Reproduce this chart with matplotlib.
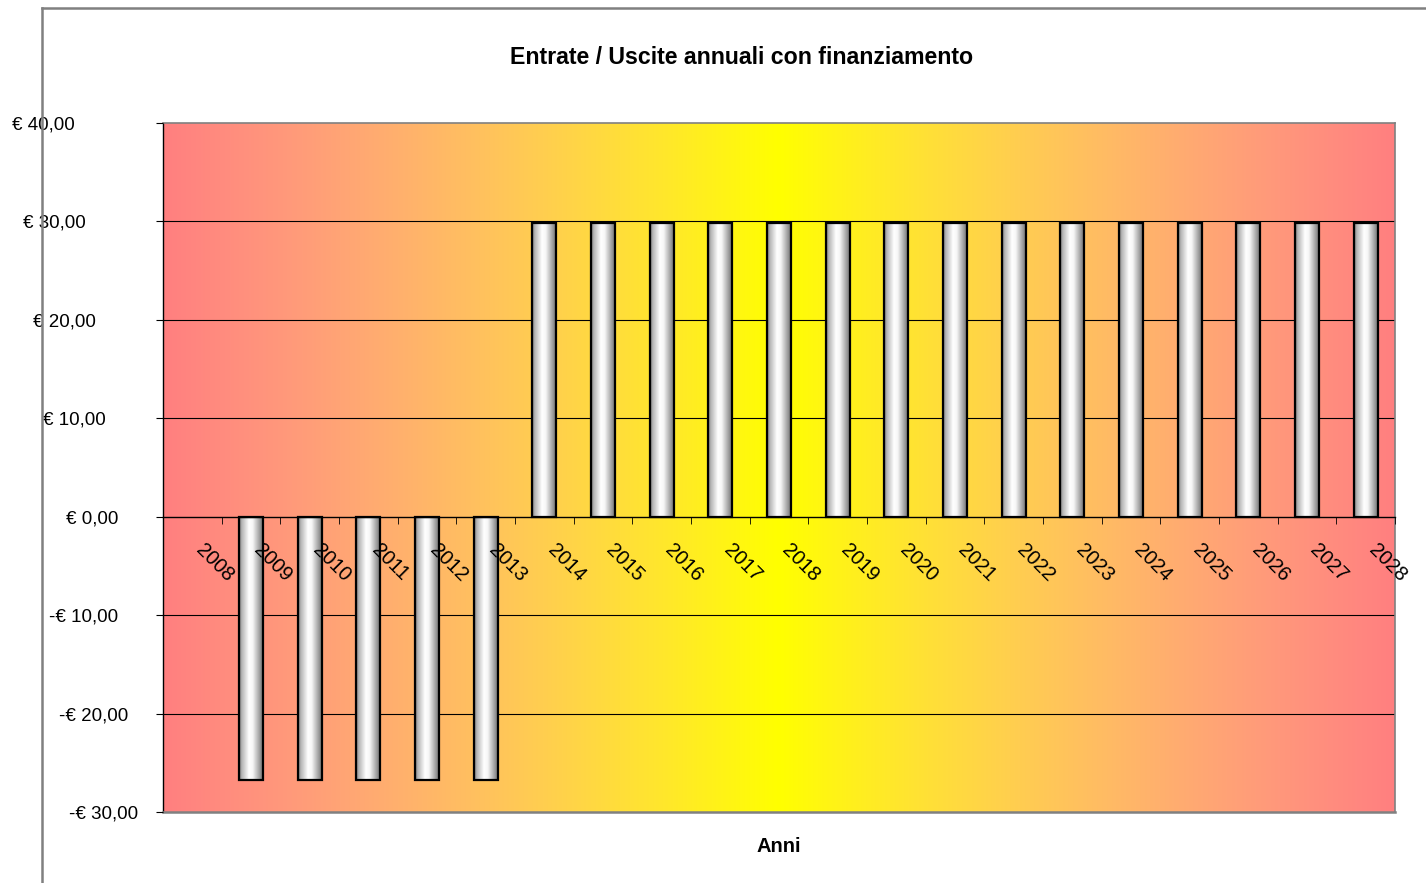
import numpy as np
import matplotlib
matplotlib.use("Agg")
import matplotlib.pyplot as plt
from matplotlib.lines import Line2D
from matplotlib.transforms import ScaledTranslation

plt.rcParams['font.family'] = ['Liberation Sans', 'DejaVu Sans']

# data
anni = [str(a) for a in range(2008, 2029)]
valori = [0.0] + [-26.7] * 5 + [29.8] * 15
y_ticks = [-30, -20, -10, 0, 10, 20, 30, 40]
y_labels = ['-€ 30,00', '-€ 20,00', '-€ 10,00', '€ 0,00',
            '€ 10,00', '€ 20,00', '€ 30,00', '€ 40,00']
# right edge of each y label, pixels left of the axis (as drawn in the original)
y_label_pad = [25, 35, 45, 45, 57, 67, 77, 88]

fig = plt.figure(figsize=(14.26, 8.83), dpi=100)
ax = fig.add_axes([163/1426, 71/883, 1232/1426, 689/883])

n = len(anni)
x = np.arange(n)

# background: red -> yellow -> red
t = np.linspace(0, 1, 400)
w = 1 - np.abs(2 * t - 1)
bg = np.zeros((1, len(t), 3))
bg[0, :, 0] = 1.0
bg[0, :, 1] = 0.5 + 0.5 * w
bg[0, :, 2] = 0.5 * (1 - w ** 2)
ax.imshow(bg, extent=[-0.5, n - 0.5, -30, 40], aspect='auto',
          zorder=0, interpolation='bilinear')

# gridlines
for v in y_ticks:
    if v not in (0, -30, 40):
        ax.axhline(v, color='black', lw=0.8, zorder=1)

# bars with cylinder shading
bars = ax.bar(x, valori, width=0.41, facecolor='none', edgecolor='black',
              linewidth=1.6, zorder=3)
s = np.linspace(0, 1, 60)
prof = np.interp(s, [0, 0.1, 0.4, 0.55, 0.85, 1], [0.45, 0.7, 1.0, 0.97, 0.6, 0.4])
cyl = np.repeat(prof[:, None], 3, axis=1)[None, :, :]
for b, v in zip(bars, valori):
    if v == 0:
        b.set_linewidth(0)
        continue
    x0 = b.get_x()
    x1 = x0 + b.get_width()
    y0 = min(0, v)
    y1 = max(0, v)
    ax.imshow(cyl, extent=[x0, x1, y0, y1], aspect='auto', zorder=2,
              interpolation='bilinear')
ax.set_xlim(-0.5, n - 0.5)
ax.set_ylim(-30, 40)

# spines
for sp in ['top', 'right']:
    ax.spines[sp].set_color('#808080')
    ax.spines[sp].set_linewidth(1.2)
ax.spines['left'].set_color('black')
ax.spines['left'].set_linewidth(1.0)
ax.spines['bottom'].set_position(('data', 0))
ax.spines['bottom'].set_color('black')
ax.spines['bottom'].set_linewidth(1.0)
ax.add_line(Line2D([-0.5, n - 0.5], [-30, -30], color='#808080', lw=1.8,
                   zorder=5, clip_on=False))

# x axis: labels at centres, ticks at boundaries
ax.set_xticks(x)
ax.set_xticklabels(anni, rotation=-45, ha='left', va='top',
                   rotation_mode='anchor', fontsize=14.5)
ax.tick_params(axis='x', which='major', length=0, pad=17)
ax.set_xticks(np.arange(n + 1) - 0.5, minor=True)
ax.tick_params(axis='x', which='minor', length=5, direction='out', color='black')
for lab in ax.get_xticklabels():
    lab.set_transform(lab.get_transform() + ScaledTranslation(0.13, 0, fig.dpi_scale_trans))
ax.xaxis.set_zorder(6)

# y axis
ax.set_yticks(y_ticks)
ax.set_yticklabels(y_labels, fontsize=13.5)
ax.tick_params(axis='y', length=5, direction='out', pad=0)
for lab, p in zip(ax.get_yticklabels(), y_label_pad):
    lab.set_transform(lab.get_transform() + ScaledTranslation(-(p - 7) / 100, 0, fig.dpi_scale_trans))
ax.yaxis.set_zorder(6)

# titles
fig.text(742/1426, 1 - 57/883, 'Entrate / Uscite annuali con finanziamento',
         ha='center', va='center', fontsize=16.7, fontweight='bold')
fig.text(779/1426, 1 - 846/883, 'Anni', ha='center', va='center',
         fontsize=14.5, fontweight='bold')

# chart area border (left and top)
fig.add_artist(Line2D([42/1426, 42/1426], [0, 1 - 8/883], color='#808080', lw=1.8,
                      transform=fig.transFigure))
fig.add_artist(Line2D([42/1426, 1], [1 - 8/883, 1 - 8/883], color='#808080', lw=1.8,
                      transform=fig.transFigure))

fig.savefig('out.png', dpi=100)
